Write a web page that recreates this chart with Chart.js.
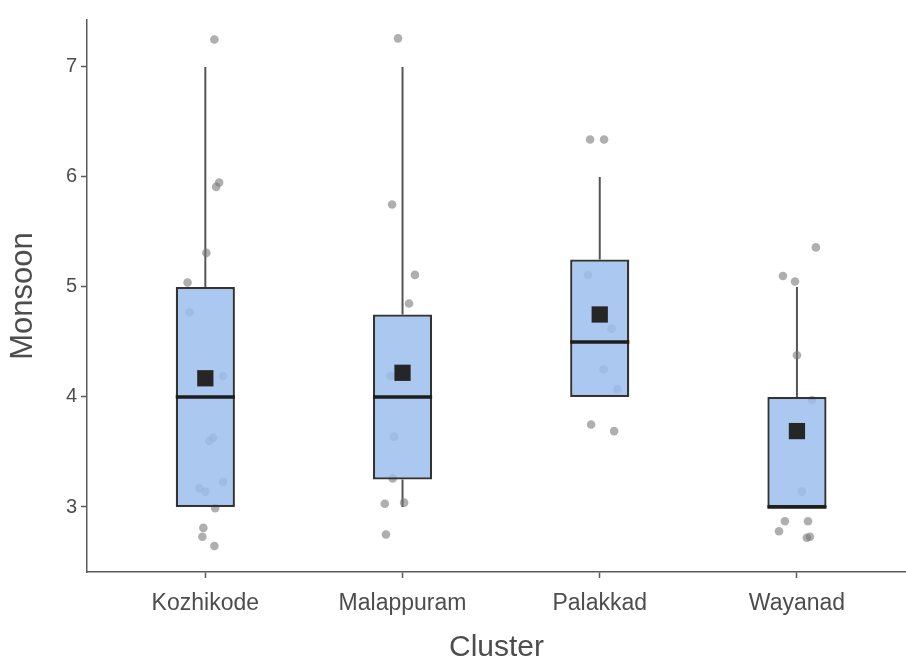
<!DOCTYPE html>
<html>
<head>
<meta charset="utf-8">
<script src="https://cdn.jsdelivr.net/npm/chart.js@4/dist/chart.umd.min.js"></script>
<style>
  html, body { margin: 0; padding: 0; background: #ffffff; }
  #wrap { width: 906px; height: 666px; }
</style>
</head>
<body>
<div id="wrap"><canvas id="c" width="906" height="666"></canvas></div>
<script>
// Monsoon scores by cluster: box summaries, means and jittered observations
const categories = ['Kozhikode', 'Malappuram', 'Palakkad', 'Wayanad'];
const yTicks = [3, 4, 5, 6, 7];

const q1 = [3, 3.25, 4, 3];
const medians = [4, 4, 4.5, 3];
const q3 = [5, 4.75, 5.25, 4];
const whiskerLow = [3, 3, 4, 3];
const whiskerHigh = [7, 7, 6, 5];
const means = [4.17, 4.22, 4.75, 3.69];

// jittered observations as [position, value]
const kozhikodePts = [
  [1.046, 7.25], [1.055, 5.91], [1.07, 5.95], [1.005, 5.31], [0.91, 5.04],
  [0.92, 4.77], [1.09, 4.19], [1.04, 3.63], [1.02, 3.60], [1.09, 3.23],
  [0.97, 3.17], [1.00, 3.14], [1.05, 2.99], [0.99, 2.81], [0.985, 2.73],
  [1.046, 2.645]
];
const malappuramPts = [
  [0.977, 7.26], [0.947, 5.75], [1.063, 5.11], [1.033, 4.85], [0.94, 4.19],
  [0.957, 3.64], [0.95, 3.26], [1.008, 3.04], [0.91, 3.03], [0.916, 2.75]
];
const palakkadPts = [
  [0.951, 6.34], [1.022, 6.34], [0.94, 5.11], [1.06, 4.62], [1.02, 4.25],
  [1.09, 4.07], [0.956, 3.75], [1.073, 3.69]
];
const wayanadPts = [
  [1.096, 5.36], [0.929, 5.10], [0.99, 5.05], [1.0, 4.38], [1.076, 3.97],
  [1.025, 3.14], [0.939, 2.87], [0.909, 2.78], [1.056, 2.87], [1.066, 2.73],
  [1.05, 2.72]
];

const groups = [kozhikodePts, malappuramPts, palakkadPts, wayanadPts];
const observations = [];
groups.forEach((pts, i) => {
  pts.forEach(p => observations.push({ x: i + p[0], y: p[1] }));
});

const boxData = categories.map((c, i) => ({ x: i + 1, y: [q1[i], q3[i]] }));
const meanData = categories.map((c, i) => ({ x: i + 1, y: means[i] }));

// whiskers under the boxes, median bars on top of them
const boxParts = {
  id: 'boxParts',
  beforeDatasetsDraw(chart) {
    const { ctx, scales: { x, y } } = chart;
    ctx.save();
    ctx.strokeStyle = '#555555';
    ctx.lineWidth = 2;
    categories.forEach((c, i) => {
      const px = x.getPixelForValue(i + 1);
      ctx.beginPath();
      ctx.moveTo(px, y.getPixelForValue(q3[i]));
      ctx.lineTo(px, y.getPixelForValue(whiskerHigh[i]));
      ctx.moveTo(px, y.getPixelForValue(q1[i]));
      ctx.lineTo(px, y.getPixelForValue(whiskerLow[i]));
      ctx.stroke();
    });
    ctx.restore();
  },
  afterDatasetsDraw(chart) {
    const { ctx, scales: { y } } = chart;
    const meta = chart.getDatasetMeta(1);
    ctx.save();
    ctx.strokeStyle = '#1e1e1e';
    ctx.lineWidth = 3.5;
    meta.data.forEach((bar, i) => {
      const py = y.getPixelForValue(medians[i]);
      ctx.beginPath();
      ctx.moveTo(bar.x - bar.width / 2, py);
      ctx.lineTo(bar.x + bar.width / 2, py);
      ctx.stroke();
    });
    ctx.restore();
  }
};

const axisColor = '#5a5a5a';
const textColor = '#4d4d4d';
const fontFamily = '"Liberation Sans", Arial, sans-serif';

new Chart(document.getElementById('c'), {
  type: 'scatter',
  data: {
    datasets: [
      {
        type: 'scatter',
        label: 'Observations',
        data: observations,
        pointRadius: 4.3,
        pointBackgroundColor: 'rgba(118,118,118,0.58)',
        pointBorderWidth: 0,
        order: 3
      },
      {
        type: 'bar',
        label: 'Box',
        data: boxData,
        backgroundColor: 'rgba(155,190,237,0.85)',
        borderColor: '#333333',
        borderWidth: 2.3,
        borderSkipped: false,
        categoryPercentage: 1,
        barPercentage: 0.3,
        order: 2
      },
      {
        type: 'scatter',
        label: 'Mean',
        data: meanData,
        pointStyle: 'rect',
        pointRadius: 11.5,
        pointBackgroundColor: '#262626',
        pointBorderWidth: 0,
        order: 0
      }
    ]
  },
  options: {
    responsive: false,
    animation: false,
    layout: { autoPadding: false, padding: { top: 20, right: 0, left: 0, bottom: 0 } },
    plugins: { legend: { display: false }, tooltip: { enabled: false } },
    scales: {
      x: {
        type: 'linear',
        offset: false,
        min: 0.4,
        max: 4.553,
        afterBuildTicks: s => { s.ticks = categories.map((c, i) => ({ value: i + 1 })); },
        afterFit: s => { s.height = 94; s.paddingRight = 0; s.paddingLeft = 0; },
        ticks: {
          callback: v => categories[v - 1],
          color: textColor,
          font: { family: fontFamily, size: 23 },
          padding: 12,
          maxRotation: 0
        },
        grid: { offset: false, drawOnChartArea: false, drawTicks: true, tickLength: 6, color: axisColor, tickWidth: 1.5 },
        border: { display: true, color: axisColor, width: 1.5 },
        title: {
          display: true,
          text: 'Cluster',
          color: textColor,
          font: { family: fontFamily, size: 30, lineHeight: 1.2 },
          padding: { top: 0, bottom: 0 }
        }
      },
      y: {
        type: 'linear',
        min: 2.409,
        max: 7.427,
        afterBuildTicks: s => { s.ticks = yTicks.map(v => ({ value: v })); },
        afterFit: s => { s.width = 87; },
        ticks: {
          color: textColor,
          font: { family: fontFamily, size: 20 },
          padding: 4
        },
        grid: { drawOnChartArea: false, drawTicks: true, tickLength: 6, color: axisColor, tickWidth: 1.5 },
        border: { display: true, color: axisColor, width: 1.5 },
        title: {
          display: true,
          text: 'Monsoon',
          color: textColor,
          font: { family: fontFamily, size: 31, lineHeight: 1.2 },
          padding: { top: 5, bottom: 0 }
        }
      }
    }
  },
  plugins: [boxParts]
});
</script>
</body>
</html>
